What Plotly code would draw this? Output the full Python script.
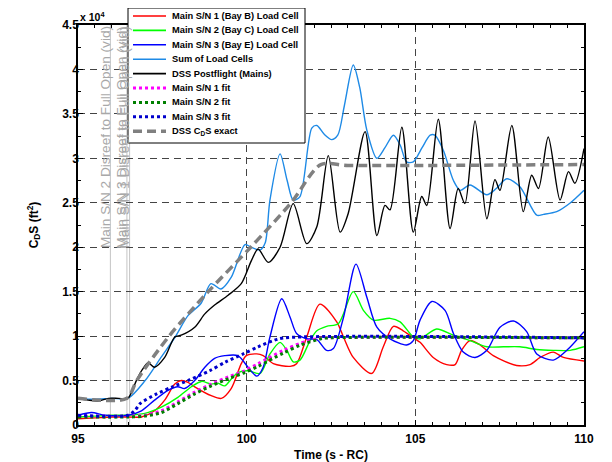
import numpy as np
import plotly.graph_objects as go

SCALE = 1e4  # values below are in units of 10^4 ft^2

# ---- data (time s - RC, CdS in 1e4 ft^2) ----
red_t = [95.0, 95.5, 96.0, 96.48, 96.88, 97.27, 97.57, 97.87, 98.06, 98.26, 98.46, 98.95, 99.25, 99.54, 99.84, 99.99,
         100.3, 100.49, 100.79, 101.29, 101.48, 101.78, 102.17, 102.67, 102.87, 103.16, 103.71, 104.05, 104.35, 104.64,
         104.99, 105.14, 105.53, 105.93, 106.18, 106.37, 106.62, 106.92, 107.31, 108.0, 108.4, 108.7, 109.09, 109.39, 110.0]
red_v = [0.07, 0.08, 0.09, 0.09, 0.09, 0.16, 0.28, 0.46, 0.50, 0.48, 0.43, 0.33, 0.30, 0.41, 0.69, 0.78,
         0.80, 0.78, 0.69, 0.66, 0.69, 0.99, 1.36, 1.16, 0.99, 0.76, 0.58, 0.88, 1.11, 1.06,
         0.97, 0.93, 0.76, 0.68, 0.68, 0.84, 0.95, 0.90, 0.78, 0.67, 0.68, 0.76, 0.82, 0.76, 0.72]

green_t = [95.0, 95.5, 96.0, 96.48, 96.98, 97.47, 97.96, 98.36, 98.66, 98.95, 99.15, 99.35, 99.55, 99.74, 100.04,
           100.4, 100.69, 100.99, 101.19, 101.38, 101.58, 101.88, 102.08, 102.37, 102.72, 103.16, 103.46, 103.76,
           104.25, 104.55, 104.94, 105.14, 105.63, 106.13, 106.62, 107.12, 107.61, 108.1, 108.6, 109.09, 109.59, 110.0]
green_v = [0.09, 0.10, 0.11, 0.11, 0.13, 0.20, 0.31, 0.43, 0.49, 0.46, 0.47, 0.44, 0.52, 0.59, 0.61,
           0.58, 0.80, 0.93, 0.84, 0.71, 0.73, 0.95, 1.06, 1.11, 1.14, 1.50, 1.29, 1.18,
           1.20, 1.16, 0.99, 0.97, 1.08, 1.01, 0.95, 0.88, 0.88, 0.88, 0.85, 0.84, 0.84, 0.88]

blue_t = [95.0, 95.4, 95.8, 96.48, 96.88, 97.27, 97.67, 97.96, 98.16, 98.46, 98.76, 99.05, 99.35, 99.74, 100.04,
          100.3, 100.49, 100.69, 101.04, 101.29, 101.48, 101.78, 102.08, 102.37, 102.57, 102.87, 103.24, 103.56,
          103.86, 104.25, 104.74, 104.94, 105.14, 105.49, 105.88, 106.13, 106.42, 106.77, 107.12, 107.51, 107.91,
          108.3, 108.6, 109.09, 109.49, 110.0]
blue_v = [0.11, 0.14, 0.11, 0.11, 0.16, 0.28, 0.39, 0.43, 0.41, 0.50, 0.65, 0.75, 0.78, 0.78, 0.65,
          0.55, 0.65, 0.99, 1.42, 1.21, 1.03, 0.97, 0.96, 0.84, 0.86, 1.21, 1.81, 1.44,
          1.10, 0.97, 0.90, 0.95, 1.18, 1.39, 1.29, 1.03, 0.82, 0.76, 0.84, 1.10, 1.17,
          1.05, 0.80, 0.73, 0.84, 1.05]

sum_t = [95.0, 95.5, 96.0, 96.48, 96.99, 97.46, 97.88, 98.26, 98.65, 98.94, 99.24, 99.54, 99.95, 100.13, 100.4,
         100.55, 100.69, 100.99, 101.2, 101.38, 101.58, 101.93, 102.08, 102.3, 102.52, 102.7, 102.9, 103.16, 103.35,
         103.56, 103.86, 104.1, 104.35, 104.55, 104.74, 104.94, 105.2, 105.44, 105.58, 105.83, 106.13, 106.33,
         106.62, 107.12, 107.4, 107.71, 108.1, 108.6, 108.8, 109.19, 109.6, 110.0]
sum_v = [0.30, 0.29, 0.30, 0.30, 0.50, 0.76, 0.99, 1.23, 1.37, 1.59, 1.53, 1.66, 2.03, 2.00, 1.97,
         2.05, 2.53, 3.05, 2.75, 2.53, 2.57, 3.34, 3.37, 3.27, 3.21, 3.26, 3.60, 4.05, 3.80,
         3.32, 3.00, 3.12, 3.26, 3.15, 2.96, 2.96, 3.12, 3.26, 3.26, 3.09, 2.75, 2.64,
         2.70, 2.59, 2.66, 2.77, 2.68, 2.36, 2.37, 2.40, 2.50, 2.64]

dss_t = [95.0, 95.3, 95.6, 95.9, 96.2, 96.48, 96.73, 96.9, 97.08, 97.27, 97.57, 97.87, 98.06, 98.46, 98.76, 99.05,
         99.45, 99.84, 100.14, 100.34, 100.64, 100.99, 101.38, 101.78, 102.08, 102.42, 102.77, 103.01, 103.51,
         103.86, 104.1, 104.25, 104.6, 104.94, 105.19, 105.34, 105.68, 106.03, 106.27, 106.47, 106.77, 107.12,
         107.36, 107.51, 107.86, 108.2, 108.45, 108.65, 108.94, 109.29, 109.54, 109.73, 110.0]
dss_v = [0.30, 0.28, 0.27, 0.30, 0.30, 0.30, 0.50, 0.62, 0.70, 0.65, 0.76, 0.99, 1.01, 1.10, 1.25, 1.35,
         1.46, 1.59, 1.85, 1.98, 1.83, 2.00, 2.49, 2.04, 2.23, 3.03, 2.17, 2.38, 3.30,
         2.13, 2.47, 2.42, 3.35, 2.17, 2.57, 2.47, 3.44, 2.21, 2.66, 2.49, 3.42, 2.32,
         2.76, 2.64, 3.37, 2.40, 2.81, 2.66, 3.24, 2.53, 2.85, 2.72, 3.11]

fit1_t = [95.0, 96.48, 96.98, 97.47, 97.96, 98.46, 98.95, 99.45, 99.94, 100.34, 101.09, 101.6, 102.08, 102.3, 110.0]
fit1_v = [0.10, 0.10, 0.11, 0.16, 0.26, 0.37, 0.46, 0.54, 0.61, 0.69, 0.84, 0.92, 0.97, 0.98, 0.98]

fit2_t = [95.0, 96.48, 96.98, 97.47, 97.96, 98.46, 98.95, 99.45, 99.94, 100.34, 101.09, 101.6, 102.2, 102.4, 110.0]
fit2_v = [0.09, 0.09, 0.10, 0.14, 0.24, 0.35, 0.44, 0.52, 0.59, 0.66, 0.81, 0.90, 0.97, 0.98, 0.98]

fit3_t = [95.0, 96.48, 96.7, 96.84, 97.33, 97.8, 98.32, 98.9, 99.38, 99.9, 100.34, 100.79, 101.1, 110.0]
fit3_v = [0.11, 0.11, 0.17, 0.24, 0.35, 0.43, 0.51, 0.61, 0.71, 0.80, 0.88, 0.95, 0.98, 0.98]

exact_t = [95.0, 96.45, 96.74, 97.7, 98.86, 100.12, 101.32, 102.2, 103.0, 110.0]
exact_v = [0.30, 0.30, 0.50, 1.00, 1.50, 2.00, 2.50, 2.93, 2.92, 2.93]

disreef_t = [95.96, 96.45, 96.53]
disreef_labels = ["Main S/N 2 Disreef to Full Open (vid)",
                  "Main S/N 3 Disreef to Full Open (vid)",
                  "Main S/N 1 Disreef to Full Open (vid)"]

y_ticks = [0, 0.5, 1, 1.5, 2, 2.5, 3, 3.5, 4, 4.5]
y_ticktext = ["0", "0.5", "1", "1.5", "2", "2.5", "3", "3.5", "4", "4.5"]
x_ticks = [95, 100, 105, 110]

series = [
    ("Main S/N 1 (Bay B) Load Cell", red_t, red_v, "#FF0000", 1.4, "solid"),
    ("Main S/N 2 (Bay C) Load Cell", green_t, green_v, "#00FF00", 1.4, "solid"),
    ("Main S/N 3 (Bay E) Load Cell", blue_t, blue_v, "#0000FF", 1.4, "solid"),
    ("Sum of Load Cells", sum_t, sum_v, "#1E8AE6", 1.4, "solid"),
    ("DSS Postflight (Mains)", dss_t, dss_v, "#000000", 1.4, "solid"),
    ("Main S/N 1 fit", fit1_t, fit1_v, "#FF00FF", 3, "dot"),
    ("Main S/N 2 fit", fit2_t, fit2_v, "#008000", 3, "dot"),
    ("Main S/N 3 fit", fit3_t, fit3_v, "#0000CC", 3, "dot"),
    ("DSS C<sub>D</sub>S exact", exact_t, exact_v, "#808080", 3.5, "9px,5px"),
]

FONT = "Arial, Liberation Sans, Helvetica, sans-serif"
OFF = 8  # page body margin of the viewer
W, H = 604, 454
ML, MR, MT, MB = 70, 28, 17, 37
PW, PH = W - ML - MR, H - MT - MB

fig = go.Figure()
for name, t, v, color, width, dash in series:
    fig.add_trace(go.Scatter(
        x=t, y=np.array(v) * SCALE, mode="lines", name=name, showlegend=False,
        line=dict(color=color, width=width, dash=dash, shape="spline", smoothing=0.8),
        hoverinfo="skip"))

shapes = []
annotations = []

# disreef markers
for tx, lab in zip(disreef_t, disreef_labels):
    shapes.append(dict(type="line", xref="x", yref="paper", x0=tx, x1=tx, y0=0, y1=1,
                       line=dict(color="#C4C4C4", width=1), layer="below"))
    annotations.append(dict(x=tx, y=2.0 * SCALE, xref="x", yref="y", text=lab, showarrow=False,
                            textangle=-90, xanchor="right", yanchor="bottom", xshift=4, yshift=-3,
                            font=dict(family=FONT, size=13.6, color="#A8A8A8")))

# custom legend, placed from screen-pixel layout
def px2paper_x(px):
    return (px - OFF - ML) / PW

def px2paper_y(py):
    return (OFF + MT + PH - py) / PH

shapes.append(dict(type="rect", xref="paper", yref="paper",
                   x0=px2paper_x(128), x1=px2paper_x(305), y0=px2paper_y(143), y1=px2paper_y(8),
                   line=dict(color="black", width=1), fillcolor="white", layer="above"))
for i, (name, t, v, color, width, dash) in enumerate(series):
    py = 16 + 14.4 * i
    shapes.append(dict(type="line", xref="paper", yref="paper",
                       x0=px2paper_x(133), x1=px2paper_x(166), y0=px2paper_y(py), y1=px2paper_y(py),
                       line=dict(color=color, width=width if width > 2 else 1.6, dash=dash), layer="above"))
    annotations.append(dict(x=px2paper_x(170), y=px2paper_y(py), xref="paper", yref="paper",
                            text="<b>" + name + "</b>", showarrow=False, xanchor="left", yanchor="middle",
                            font=dict(family=FONT, size=9.3, color="black")))

# exponent label
annotations.append(dict(x=px2paper_x(78), y=px2paper_y(17), xref="paper", yref="paper",
                        text="<b>x 10<sup>4</sup></b>", showarrow=False, xanchor="left", yanchor="middle",
                        font=dict(family=FONT, size=10.5, color="black")))

fig.update_layout(
    width=W, height=H, margin=dict(l=ML, r=MR, t=MT, b=MB, autoexpand=False),
    paper_bgcolor="white", plot_bgcolor="white",
    font=dict(family=FONT, size=12, color="black"),
    shapes=shapes, annotations=annotations,
    xaxis=dict(range=[95, 110], tickvals=x_ticks, ticktext=["<b>%d</b>" % v for v in x_ticks],
               ticks="inside", ticklen=5, tickcolor="black", showline=True, linecolor="black", linewidth=1.5,
               mirror="allticks", showgrid=True, gridcolor="#444444", gridwidth=1, griddash="7px,5px",
               zeroline=False, ticklabelstandoff=2, automargin=False,
               minor=dict(dtick=0.5, ticks="inside", ticklen=3, tickcolor="black", showgrid=False),
               title=dict(text="<b>Time (s - RC)</b>", font=dict(size=12), standoff=6)),
    yaxis=dict(range=[0, 4.5 * SCALE], tickvals=[v * SCALE for v in y_ticks],
               ticktext=["<b>" + s + "</b>" for s in y_ticktext],
               ticks="inside", ticklen=5, tickcolor="black", showline=True, linecolor="black", linewidth=1.5,
               mirror="allticks", showgrid=True, gridcolor="#444444", gridwidth=1, griddash="7px,5px",
               zeroline=False, automargin=False, ticklabelstandoff=-5,
               minor=dict(dtick=0.25 * SCALE, ticks="inside", ticklen=3, tickcolor="black", showgrid=False),
               title=dict(text="<b>C<sub>D</sub>S (ft<sup>2</sup>)</b>", font=dict(size=12), standoff=21)),
)

fig.write_html("out.html")
